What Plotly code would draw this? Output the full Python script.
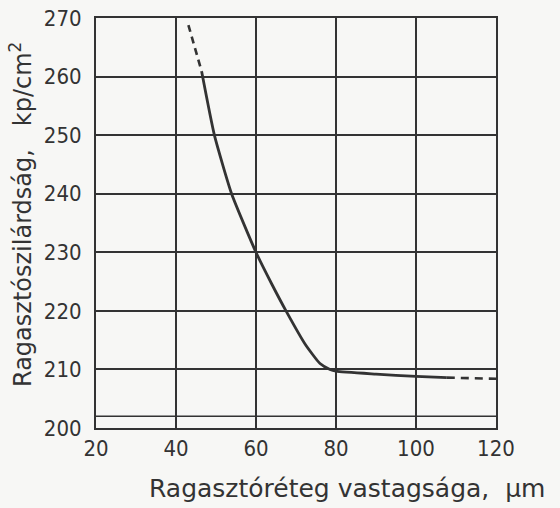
import plotly.graph_objects as go

# Data
solid_x = [46.4, 49.6, 53.9, 60.0, 64.0, 67.5, 72.3, 76.0, 78.5, 80.0, 90.0, 100.0, 107.7]
solid_y = [260.9, 250.0, 240.0, 230.0, 224.5, 220.0, 214.3, 211.0, 210.0, 209.7, 209.2, 208.8, 208.6]
dash_top_x = [43.1, 46.4]
dash_top_y = [268.8, 260.9]
dash_right_x = [107.7, 120.0]
dash_right_y = [208.6, 208.4]
base_line_y = 202
x_ticks = [20, 40, 60, 80, 100, 120]
y_ticks = [200, 210, 220, 230, 240, 250, 260, 270]

ink = "#333333"
tick_font = dict(family="DejaVu Sans Condensed, sans-serif", size=22, color=ink)
title_font = dict(family="DejaVu Sans", size=25, color=ink)

fig = go.Figure()
fig.add_trace(go.Scatter(x=[x_ticks[0], x_ticks[-1]], y=[base_line_y, base_line_y], mode="lines",
                         line=dict(color=ink, width=1.6), hoverinfo="skip"))
fig.add_trace(go.Scatter(x=solid_x, y=solid_y, mode="lines",
                         line=dict(color=ink, width=2.8, shape="spline", smoothing=0.5)))
fig.add_trace(go.Scatter(x=dash_top_x, y=dash_top_y, mode="lines", line=dict(color=ink, width=2.6, dash="7px,5px")))
fig.add_trace(go.Scatter(x=dash_right_x, y=dash_right_y, mode="lines", line=dict(color=ink, width=2.6, dash="8px,6px")))

fig.update_layout(
    width=560, height=508,
    margin=dict(l=96, r=64, t=18, b=80),
    paper_bgcolor="#f7f7f5", plot_bgcolor="#f7f7f5",
    showlegend=False,
    font=title_font,
)
fig.update_xaxes(range=[20, 120], tickvals=x_ticks, ticks="", showgrid=True, gridcolor=ink, gridwidth=1.5,
                 showline=True, linecolor=ink, linewidth=2, mirror=True, zeroline=False, automargin=False,
                 tickfont=tick_font, ticklabelstandoff=0)
fig.update_yaxes(range=[200, 270], tickvals=y_ticks, ticks="", showgrid=True, gridcolor=ink, gridwidth=1.5,
                 showline=True, linecolor=ink, linewidth=2, mirror=True, zeroline=False, automargin=False,
                 tickfont=tick_font, ticklabelstandoff=8)
fig.add_annotation(text="Ragasztóréteg vastagsága,  μm", xref="paper", yref="paper", x=0.6275, y=-0.148,
                   xanchor="center", yanchor="middle", showarrow=False, font=title_font)
fig.add_annotation(text="Ragasztószilárdság,   kp/cm<sup>2</sup>", xref="paper", yref="paper", x=-0.187, y=0.52,
                   xanchor="center", yanchor="middle", textangle=-90, showarrow=False,
                   font=dict(family="DejaVu Sans", size=24, color=ink))

fig.write_html("out.html")
